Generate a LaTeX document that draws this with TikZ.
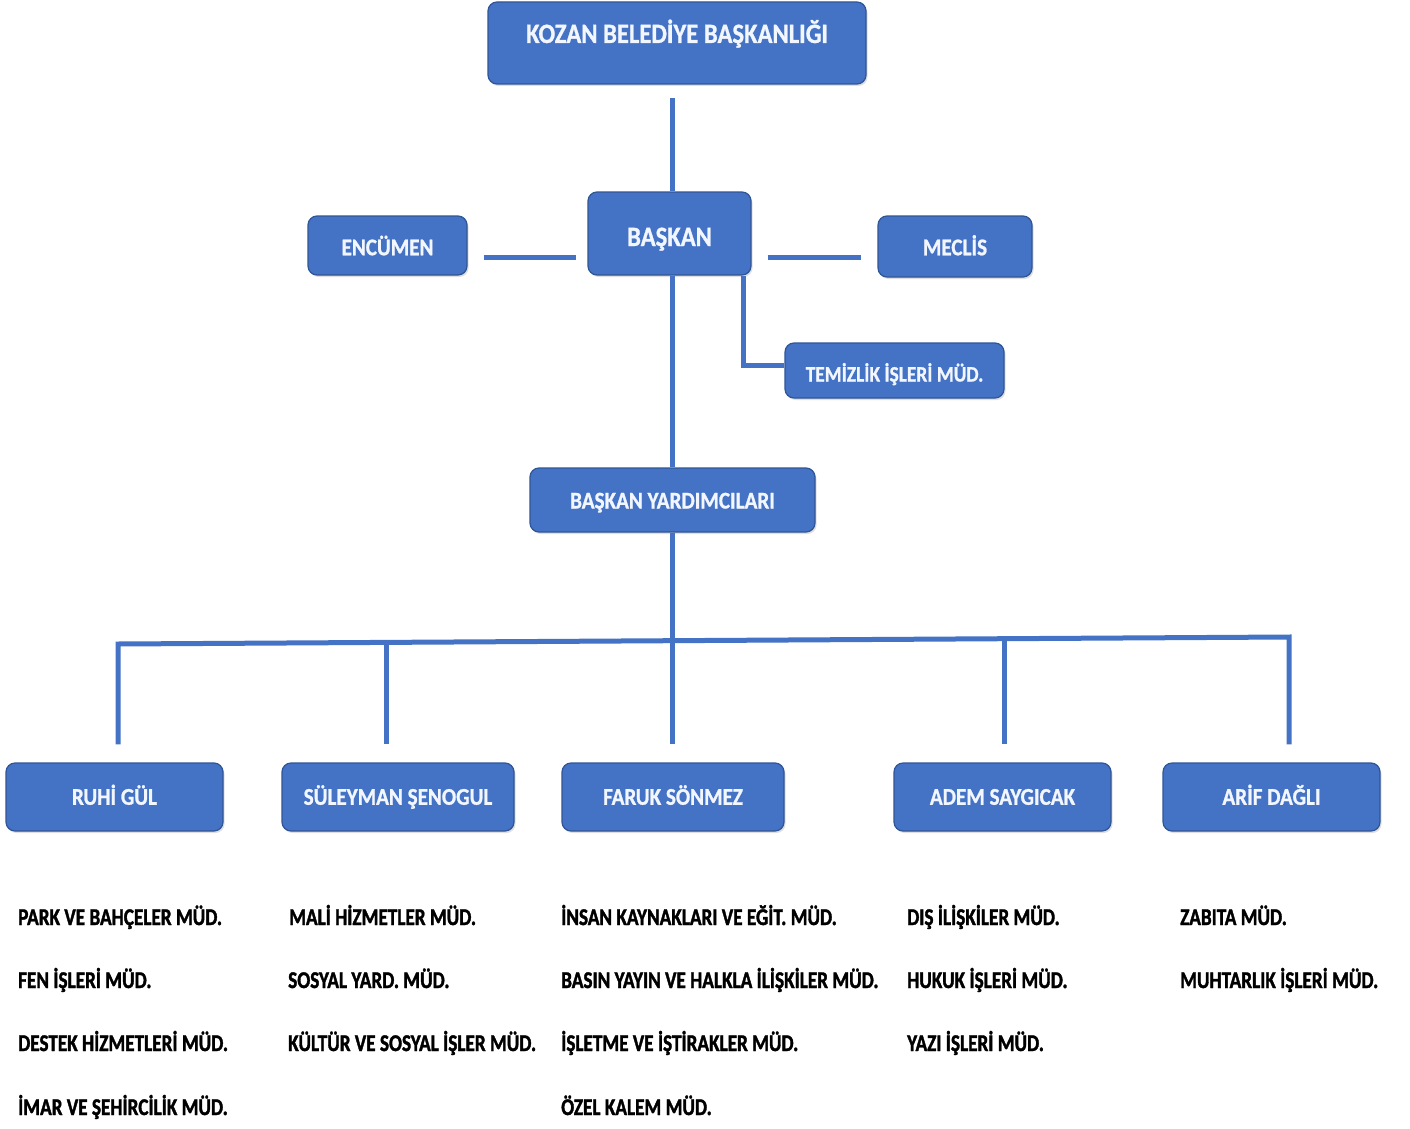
\documentclass[tikz,border=0pt]{standalone}
\usepackage{fontspec}
\newfontfamily\bfont{Carlito}[FakeStretch=0.88, FakeBold=1]
\newfontfamily\lfont{Carlito}[FakeStretch=0.8, FakeBold=1.5]
\usetikzlibrary{shadows}
\definecolor{boxblue}{HTML}{4472C4}
\definecolor{boxedge}{HTML}{2F5597}
\definecolor{lineblue}{HTML}{4472C4}
\definecolor{boxtext}{HTML}{F2F6FF}
\begin{document}
\begin{tikzpicture}[x=1pt,y=-1pt,
  orgbox/.style={draw=boxedge, line width=1.2pt, fill=boxblue, rounded corners=9pt,
    text=boxtext, font=\bfont\bfseries\fontsize{24}{28}\selectfont, inner sep=0pt,
    text height=15.5pt, text depth=0pt,
    drop shadow={opacity=0.25, shadow xshift=1.5pt, shadow yshift=-2pt}},
  conn/.style={draw=lineblue, line width=5pt},
  item/.style={anchor=base west, inner sep=0pt,
    font=\lfont\bfseries\fontsize{24}{28}\selectfont, text=black}]
\fill[white] (0,0) rectangle (1410,1129);
\useasboundingbox (0,0) rectangle (1410,1129);

% boxes
\node[orgbox, minimum width=378pt, minimum height=82pt, text height=9pt, text depth=9pt,
  font=\bfont\bfseries\fontsize{28}{32}\selectfont] (kozan) at (677,43) {KOZAN BELEDİYE BAŞKANLIĞI};
\node[orgbox, minimum width=163pt, minimum height=83pt, text height=25pt,
  font=\bfont\bfseries\fontsize{28}{32}\selectfont] (baskan) at (669.5,233.5) {BAŞKAN};
\node[orgbox, minimum width=159pt, minimum height=59pt, text height=19.5pt] (encumen) at (387.5,245.5) {ENCÜMEN};
\node[orgbox, minimum width=154pt, minimum height=61pt, text height=17.5pt] (meclis) at (955,246.5) {MECLİS};
\node[orgbox, minimum width=219pt, minimum height=55pt, text height=22pt,
  font=\bfont\bfseries\fontsize{22}{26}\selectfont] (temizlik) at (894.5,370.5) {TEMİZLİK İŞLERİ MÜD.};
\node[orgbox, minimum width=285pt, minimum height=64pt, text height=17pt] (yard) at (672.5,500) {BAŞKAN YARDIMCILARI};

\node[orgbox, minimum width=217pt, minimum height=68pt] (ruhi) at (114.5,797) {RUHİ GÜL};
\node[orgbox, minimum width=232pt, minimum height=68pt] (suleyman) at (398,797) {SÜLEYMAN ŞENOGUL};
\node[orgbox, minimum width=222pt, minimum height=68pt] (faruk) at (673,797) {FARUK SÖNMEZ};
\node[orgbox, minimum width=217pt, minimum height=68pt] (adem) at (1002.5,797) {ADEM SAYGICAK};
\node[orgbox, minimum width=217pt, minimum height=68pt] (arif) at (1271.5,797) {ARİF DAĞLI};

% helper coordinates
\coordinate (ktop) at (672,98);
\coordinate (ly) at (0,257);
\coordinate (tk) at (743,365);
\coordinate (s1) at (118,644);
\coordinate (s2) at (386,642.4);
\coordinate (s4) at (1004,638.7);
\coordinate (s5) at (1289,637);

% connectors
\draw[conn] (ktop) -- (ktop |- baskan.north);
\draw[conn, shorten <=16pt, shorten >=11pt] (encumen.east |- ly) -- (baskan.west |- ly);
\draw[conn, shorten <=16pt, shorten >=16pt] (baskan.east |- ly) -- (meclis.west |- ly);
\draw[conn] (baskan.south -| tk) -- (tk) -- (temizlik.west |- tk);
\draw[conn] (ktop |- baskan.south) -- (ktop |- yard.north);
\draw[conn, shorten >=18pt] (ktop |- yard.south) -- (ktop |- faruk.north);
\draw[conn, shorten <=18pt, shorten >=18pt] (s1 |- ruhi.north) -- (s1) -- (s5) -- (s5 |- arif.north);
\draw[conn, shorten >=18pt] (s2) -- (s2 |- suleyman.north);
\draw[conn, shorten >=18pt] (s4) -- (s4 |- adem.north);

% lists
\node[item] (a1) at (18,925) {PARK VE BAHÇELER MÜD.};
\node[item] (a2) at (18,988) {FEN İŞLERİ MÜD.};
\node[item] (a3) at (18,1051) {DESTEK HİZMETLERİ MÜD.};
\node[item] (a4) at (18,1115) {İMAR VE ŞEHİRCİLİK MÜD.};

\node[item] (b1) at (289,925) {MALİ HİZMETLER MÜD.};
\node[item] (b2) at (288,988) {SOSYAL YARD. MÜD.};
\node[item] (b3) at (288,1051) {KÜLTÜR VE SOSYAL İŞLER MÜD.};

\node[item] (c1) at (561,925) {İNSAN KAYNAKLARI VE EĞİT. MÜD.};
\node[item] (c2) at (561,988) {BASIN YAYIN VE HALKLA İLİŞKİLER MÜD.};
\node[item] (c3) at (561,1051) {İŞLETME VE İŞTİRAKLER MÜD.};
\node[item] (c4) at (561,1115) {ÖZEL KALEM MÜD.};

\node[item] (d1) at (907,925) {DIŞ İLİŞKİLER MÜD.};
\node[item] (d2) at (907,988) {HUKUK İŞLERİ MÜD.};
\node[item] (d3) at (907,1051) {YAZI İŞLERİ MÜD.};

\node[item] (e1) at (1180,925) {ZABITA MÜD.};
\node[item] (e2) at (1180,988) {MUHTARLIK İŞLERİ MÜD.};
\end{tikzpicture}
\end{document}
